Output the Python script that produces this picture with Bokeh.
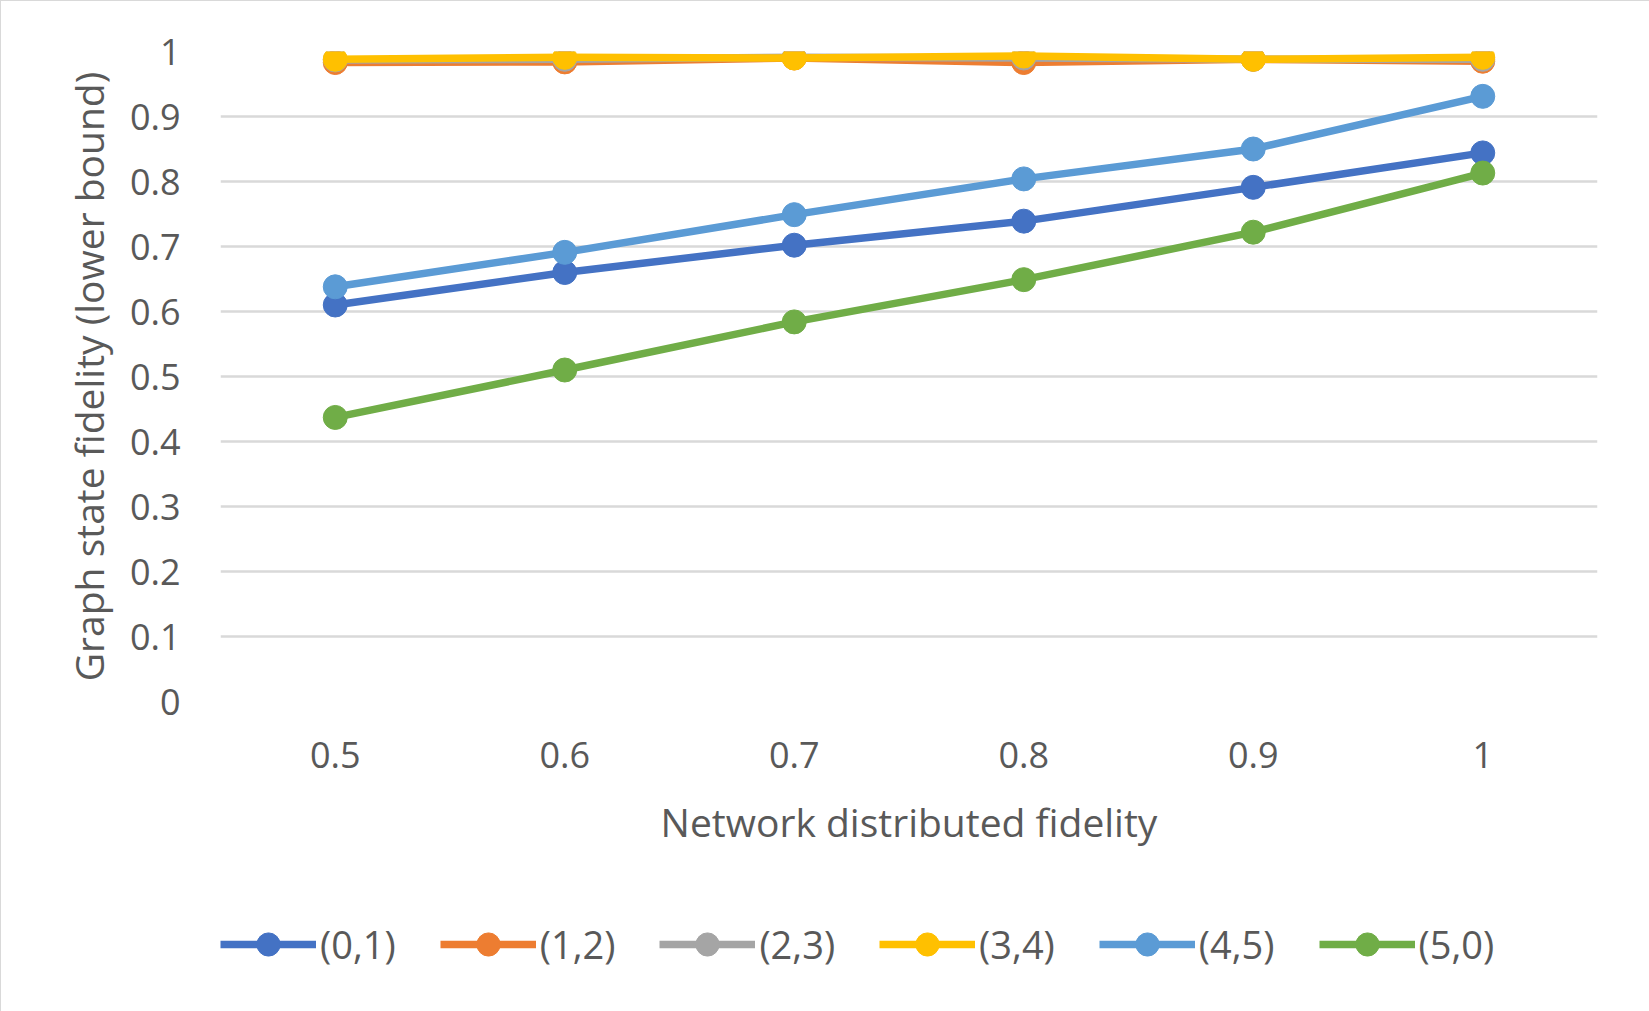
from bokeh.plotting import figure
from bokeh.layouts import column
from bokeh.models import FixedTicker, CustomJSTickFormatter, Legend, LegendItem, ColumnDataSource
from bokeh.embed import file_html
from bokeh.resources import INLINE

x_labels = ["0.5", "0.6", "0.7", "0.8", "0.9", "1"]
series_names = ["(0,1)", "(1,2)", "(2,3)", "(3,4)", "(4,5)", "(5,0)"]
s01 = [0.610, 0.660, 0.702, 0.739, 0.791, 0.844]
s12 = [0.983, 0.984, 0.990, 0.983, 0.988, 0.985]
s23 = [0.987, 0.988, 0.991, 0.990, 0.988, 0.988]
s34 = [0.988, 0.991, 0.990, 0.993, 0.988, 0.991]
s45 = [0.638, 0.691, 0.749, 0.804, 0.850, 0.931]
s50 = [0.437, 0.510, 0.584, 0.649, 0.722, 0.813]
series_values = [s01, s12, s23, s34, s45, s50]
colors = ["#4472C4", "#ED7D31", "#A5A5A5", "#FFC000", "#5B9BD5", "#70AD47"]
y_ticks = [0, 0.1, 0.2, 0.3, 0.4, 0.5, 0.6, 0.7, 0.8, 0.9, 1.0]

FONT = "Open Sans"
TXT = "#595959"

p = figure(width=1649, height=880, x_range=x_labels, y_range=(0, 1),
           output_backend="svg", toolbar_location=None,
           min_border_left=219, min_border_right=53, min_border_top=50, min_border_bottom=180)
p.x_range.range_padding = 0
p.outline_line_color = None
p.background_fill_color = "white"
p.border_fill_color = "white"

p.xgrid.grid_line_color = None
p.ygrid.grid_line_color = "#d9d9d9"
p.ygrid.grid_line_width = 2.5
p.yaxis.ticker = FixedTicker(ticks=y_ticks)
p.yaxis.formatter = CustomJSTickFormatter(code="return String(Number(tick.toFixed(1)));")

for ax in (p.xaxis[0], p.yaxis[0]):
    ax.axis_line_color = None
    ax.major_tick_line_color = None
    ax.minor_tick_line_color = None
    ax.major_label_text_font = FONT
    ax.major_label_text_font_size = "36px"
    ax.major_label_text_color = TXT
    ax.axis_label_text_font = FONT
    ax.axis_label_text_font_size = "39px"
    ax.axis_label_text_color = TXT
    ax.axis_label_text_font_style = "normal"

p.xaxis.axis_label = "Network distributed fidelity"
p.yaxis.axis_label = "Graph state fidelity (lower bound)"
p.xaxis.major_label_standoff = 34
p.xaxis.axis_label_standoff = 24
p.yaxis.major_label_standoff = 34
p.yaxis.axis_label_standoff = 12

sources = []
for name, vals, c in zip(series_names, series_values, colors):
    src = ColumnDataSource(dict(x=x_labels, y=vals))
    sources.append(src)
    p.line("x", "y", source=src, line_color=c, line_width=7.5, line_join="round")
    p.scatter("x", "y", source=src, size=24, fill_color=c, line_color=c)

# legend strip below the chart (same series, drawn outside its visible range)
pl = figure(width=1649, height=131, x_range=x_labels, y_range=(2, 3),
            output_backend="svg", toolbar_location=None, min_border=0)
pl.axis.visible = False
pl.grid.grid_line_color = None
pl.outline_line_color = None
items = []
for name, src, c in zip(series_names, sources, colors):
    r1 = pl.line("x", "y", source=src, line_color=c, line_width=7.5)
    r2 = pl.scatter("x", "y", source=src, size=24, fill_color=c, line_color=c)
    items.append(LegendItem(label=name, renderers=[r1, r2]))

legend = Legend(items=items, orientation="horizontal", location=(0, 39),
                label_text_font=FONT, label_text_font_size="38px", label_text_color=TXT,
                glyph_width=96, glyph_height=58, spacing=44, label_standoff=4,
                border_line_color=None, background_fill_alpha=0, padding=0, margin=0)
pl.add_layout(legend, "center")

layout = column(p, pl, spacing=0)
layout.styles = {"border": "1px solid #d9d9d9", "box-sizing": "border-box"}

open("out.html", "w").write(file_html(layout, INLINE))
